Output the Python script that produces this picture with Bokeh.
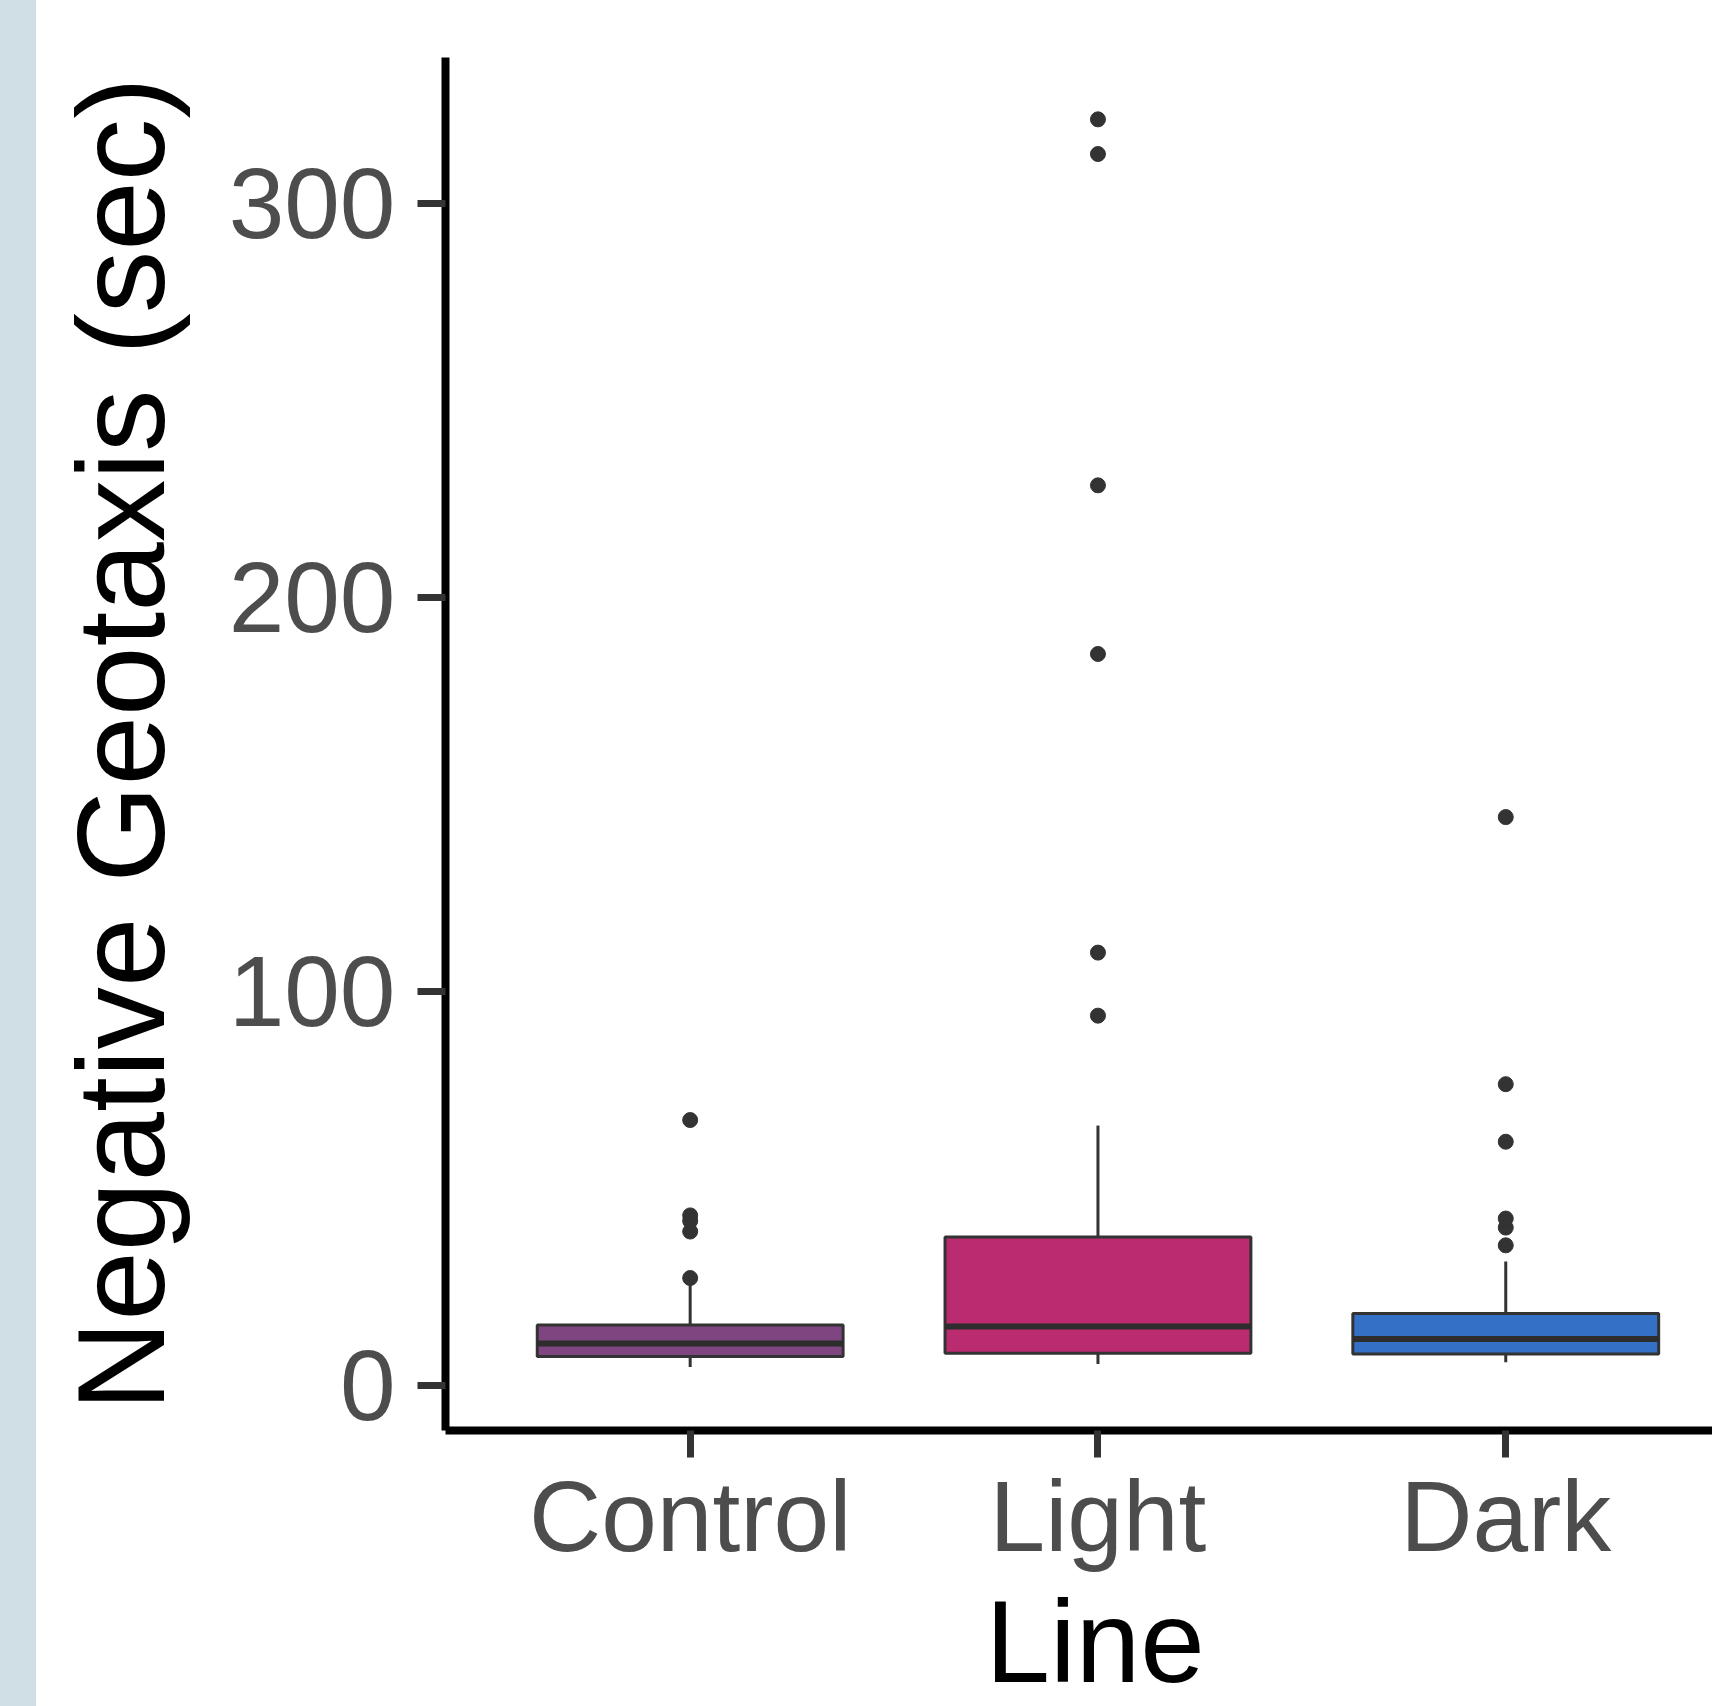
from bokeh.plotting import figure
from bokeh.models import FixedTicker, Title, Div, Range1d
from bokeh.layouts import row
from bokeh.embed import file_html
from bokeh.resources import INLINE

# ---- data ----
categories = ["Control", "Light", "Dark"]
positions = [1, 2, 3]
q1 = [7.3, 8.1, 7.9]
medians = [10.6, 14.9, 11.7]
q3 = [15.3, 37.6, 18.2]
whisker_low = [4.6, 5.4, 5.8]
whisker_high = [26.4, 65.9, 31.4]
outliers_control = [27.2, 39.0, 41.7, 43.1, 67.3]
outliers_light = [93.8, 109.8, 185.6, 228.4, 312.5, 321.3]
outliers_dark = [35.5, 40.0, 42.3, 61.8, 76.4, 144.2]
fill_colors = ["#7e4580", "#bb2b6f", "#3370c6"]
y_ticks = [0, 100, 200, 300]

FONT = "Liberation Sans"
H = 1706

p = figure(width=1676, height=H, output_backend="svg", toolbar_location=None,
           x_range=Range1d(0.4, 3.507), y_range=Range1d(-11.5, 337.0),
           min_border_left=409, min_border_right=0, min_border_top=57, min_border_bottom=272,
           background_fill_color="white", border_fill_color="white")
p.outline_line_color = None
p.grid.visible = False

# whiskers
p.segment(x0=positions, y0=q3, x1=positions, y1=whisker_high, line_color="#333333", line_width=3)
p.segment(x0=positions, y0=q1, x1=positions, y1=whisker_low, line_color="#333333", line_width=3)
# boxes
p.vbar(x=positions, width=0.75, bottom=q1, top=q3, fill_color=fill_colors,
       line_color="#333333", line_width=3)
# medians
half = 0.375
p.segment(x0=[x - half for x in positions], y0=medians, x1=[x + half for x in positions], y1=medians,
          line_color="#2d2d2d", line_width=6)
# outliers
ox = [1] * len(outliers_control) + [2] * len(outliers_light) + [3] * len(outliers_dark)
oy = outliers_control + outliers_light + outliers_dark
p.scatter(x=ox, y=oy, size=15, fill_color="#333333", line_color="#333333")

# axes
for ax in (p.xaxis[0], p.yaxis[0]):
    ax.axis_line_color = "black"
    ax.axis_line_width = 8
    ax.major_tick_line_color = "#333333"
    ax.major_tick_line_width = 7
    ax.major_tick_in = 0
    ax.minor_tick_line_color = None
    ax.major_label_text_font = FONT
    ax.major_label_text_font_size = "100px"
    ax.major_label_text_color = "#4d4d4d"

p.yaxis.major_tick_out = 28
p.xaxis.major_tick_out = 27
p.xaxis.ticker = FixedTicker(ticks=positions)
p.xaxis.major_label_overrides = {pos: cat for pos, cat in zip(positions, categories)}
p.xaxis.major_label_standoff = 2
p.yaxis.ticker = FixedTicker(ticks=y_ticks)
p.yaxis.major_label_standoff = 22
p.yaxis.axis_label = "Negative Geotaxis (sec)"
p.yaxis.axis_label_text_font = FONT
p.yaxis.axis_label_text_font_size = "125px"
p.yaxis.axis_label_text_font_style = "normal"
p.yaxis.axis_label_text_color = "black"
p.yaxis.axis_label_standoff = 36

# x-axis title, centred on the full (cropped) panel of the reference
p.add_layout(Title(text="Line", align="left", offset=540, standoff=0,
                   text_font=FONT, text_font_size="116px", text_font_style="normal",
                   text_color="black"), "below")

strip = Div(width=36, height=H, margin=0, styles={"background-color": "#d0dfe5"})
layout = row(strip, p, spacing=0)

open("out.html", "w").write(file_html(layout, INLINE))
